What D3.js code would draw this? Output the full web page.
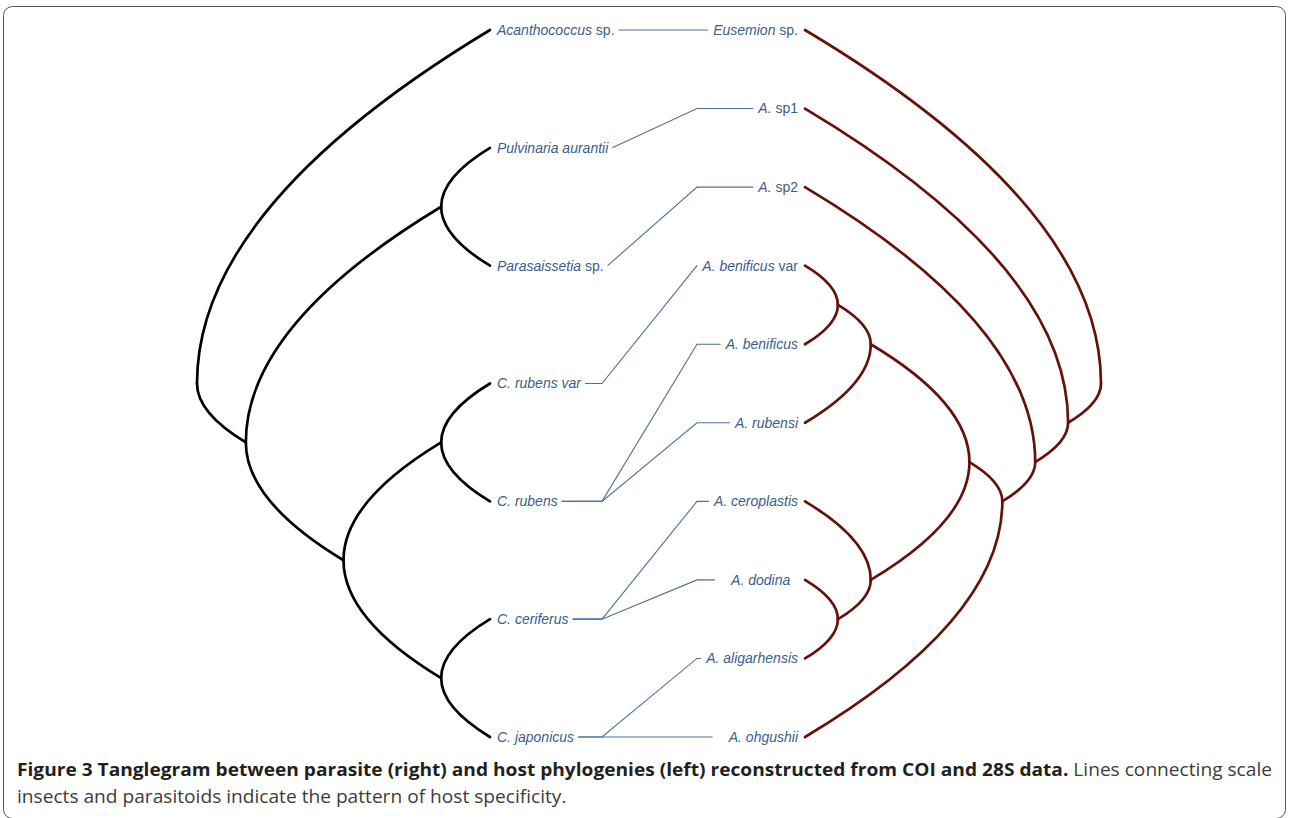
<!DOCTYPE html>
<html><head><meta charset="utf-8">
<script src="https://cdn.jsdelivr.net/npm/d3@7"></script>
<style>html,body{margin:0;padding:0;background:#fff;}svg{display:block}</style>
</head><body>
<svg id="chart" width="1290" height="818"></svg>
<script>
// ---- data ----
const hostNames = [["Acanthococcus", " sp."], ["Pulvinaria aurantii", ""], ["Parasaissetia", " sp."],
  ["C. rubens var", ""], ["C. rubens", ""], ["C. ceriferus", ""], ["C. japonicus", ""]];
const parasiteNames = [["Eusemion", " sp."], ["A.", " sp1"], ["A.", " sp2"], ["A. benificus", " var"],
  ["A. benificus", ""], ["A. rubensi", ""], ["A. ceroplastis", ""], ["   A. dodina", "  "],
  ["A. aligarhensis", ""], ["   A. ohgushii", ""]];
const hostTree = [0, [[1, 2], [[3, 4], [5, 6]]]];
const hostNodeDepths = [6, 5, 1, 3, 1, 1];            // preorder internal nodes
const parasiteTree = [0, [1, [2, [[[[3, 4], 5], [6, [7, 8]]], 9]]]];
const parasiteNodeDepths = [9, 8, 7, 6, 5, 2, 1, 2, 1]; // preorder internal nodes
const associations = [[0, 0], [1, 1], [2, 2], [3, 3], [4, 4], [4, 5], [5, 6], [5, 7], [6, 8], [6, 9]];
const captionBold = "Figure 3 Tanglegram between parasite (right) and host phylogenies (left) reconstructed from COI and 28S data.";
const captionRest1 = " Lines connecting scale";
const captionLine2 = "insects and parasitoids indicate the pattern of host specificity.";

// ---- layout ----
const svg = d3.select("#chart");
const W = 1290, H = 818;
svg.append("rect").attr("x", 3.5).attr("y", 6.5).attr("width", 1282).attr("height", 812)
  .attr("rx", 9).attr("fill", "none").attr("stroke", "#555").attr("stroke-width", 1);

const hostY = d3.scalePoint().domain(d3.range(hostNames.length)).range([30, 737]);
const paraY = d3.scalePoint().domain(d3.range(parasiteNames.length)).range([30, 737]);
const hostX = d3.scaleLinear().domain([0, d3.max(hostNodeDepths)]).range([490, 197]);
const paraX = d3.scaleLinear().domain([0, d3.max(parasiteNodeDepths)]).range([805, 1101]);

function build(tree, depths, xs, ys) {
  let k = 0;
  const root = d3.hierarchy(tree, d => Array.isArray(d) ? d : null);
  root.eachBefore(n => { n.dv = n.children ? depths[k++] : 0; });
  root.each(n => {
    n.px = xs(n.dv);
    n.py = d3.mean(n.leaves(), l => ys(l.data));
  });
  return root;
}
const hRoot = build(hostTree, hostNodeDepths, hostX, hostY);
const pRoot = build(parasiteTree, parasiteNodeDepths, paraX, paraY);

function edgePath(l) {
  const p = l.source, c = l.target;
  return `M${p.px},${p.py}Q${p.px},${(p.py + c.py) / 2} ${c.px},${c.py}`;
}
svg.append("g").selectAll("path").data(hRoot.links()).join("path")
  .attr("d", edgePath).attr("fill", "none").attr("stroke", "#000").attr("stroke-width", 2.7)
  .attr("stroke-linecap", "round");
svg.append("g").selectAll("path").data(pRoot.links()).join("path")
  .attr("d", edgePath).attr("fill", "none").attr("stroke", "#661209").attr("stroke-width", 2.7)
  .attr("stroke-linecap", "round");

const labelColor = "#3a5d8d";
const font = "'Liberation Sans', Arial, sans-serif";
function addLabels(names, ys, x, anchor) {
  const g = svg.append("g");
  return names.map((nm, i) => {
    const t = g.append("text").attr("x", x).attr("y", ys(i)).attr("dy", "0.35em")
      .attr("text-anchor", anchor).attr("font-family", font).attr("font-size", 14)
      .attr("fill", labelColor).attr("xml:space", "preserve").style("white-space", "pre");
    t.append("tspan").attr("font-style", "italic").text(nm[0]);
    if (nm[1]) t.append("tspan").text(nm[1]);
    return t.node().getComputedTextLength();
  });
}
const hostTx = hostX(0) + 7, paraTx = paraX(0) - 7;
const hostW = addLabels(hostNames, hostY, hostTx, "start");
const paraW = addLabels(parasiteNames, paraY, paraTx, "end");

const gl = svg.append("g");
gl.selectAll("path").data(associations).join("path")
  .attr("d", ([h, p]) => {
    const xs = hostTx + hostW[h] + 4, xe = paraTx - paraW[p] - 5;
    const x1 = Math.max(xs, 602), x2 = Math.min(xe, 697);
    const y1 = hostY(h), y2 = paraY(p);
    return `M${xs},${y1}H${x1}L${x2},${y2}H${xe}`;
  })
  .attr("fill", "none").attr("stroke", "#4d6e9e").attr("stroke-width", 1.1);

// ---- caption ----
const capFont = "'Open Sans', 'Noto Sans', sans-serif";
const c1 = svg.append("text").attr("x", 17).attr("y", 776).attr("font-family", capFont).attr("font-size", 17.5);
c1.append("tspan").attr("font-weight", "bold").attr("fill", "#231f20").text(captionBold);
c1.append("tspan").attr("fill", "#3c3c3c").text(captionRest1);
const w1 = c1.node().getComputedTextLength();
const ratio = 1255 / w1;
c1.attr("textLength", 1255).attr("lengthAdjust", "spacingAndGlyphs");
const c2 = svg.append("text").attr("x", 17).attr("y", 803).attr("font-family", capFont).attr("font-size", 17.5)
  .attr("fill", "#3c3c3c").text(captionLine2);
const w2 = c2.node().getComputedTextLength();
c2.attr("textLength", w2 * ratio).attr("lengthAdjust", "spacingAndGlyphs");
</script>
</body></html>
